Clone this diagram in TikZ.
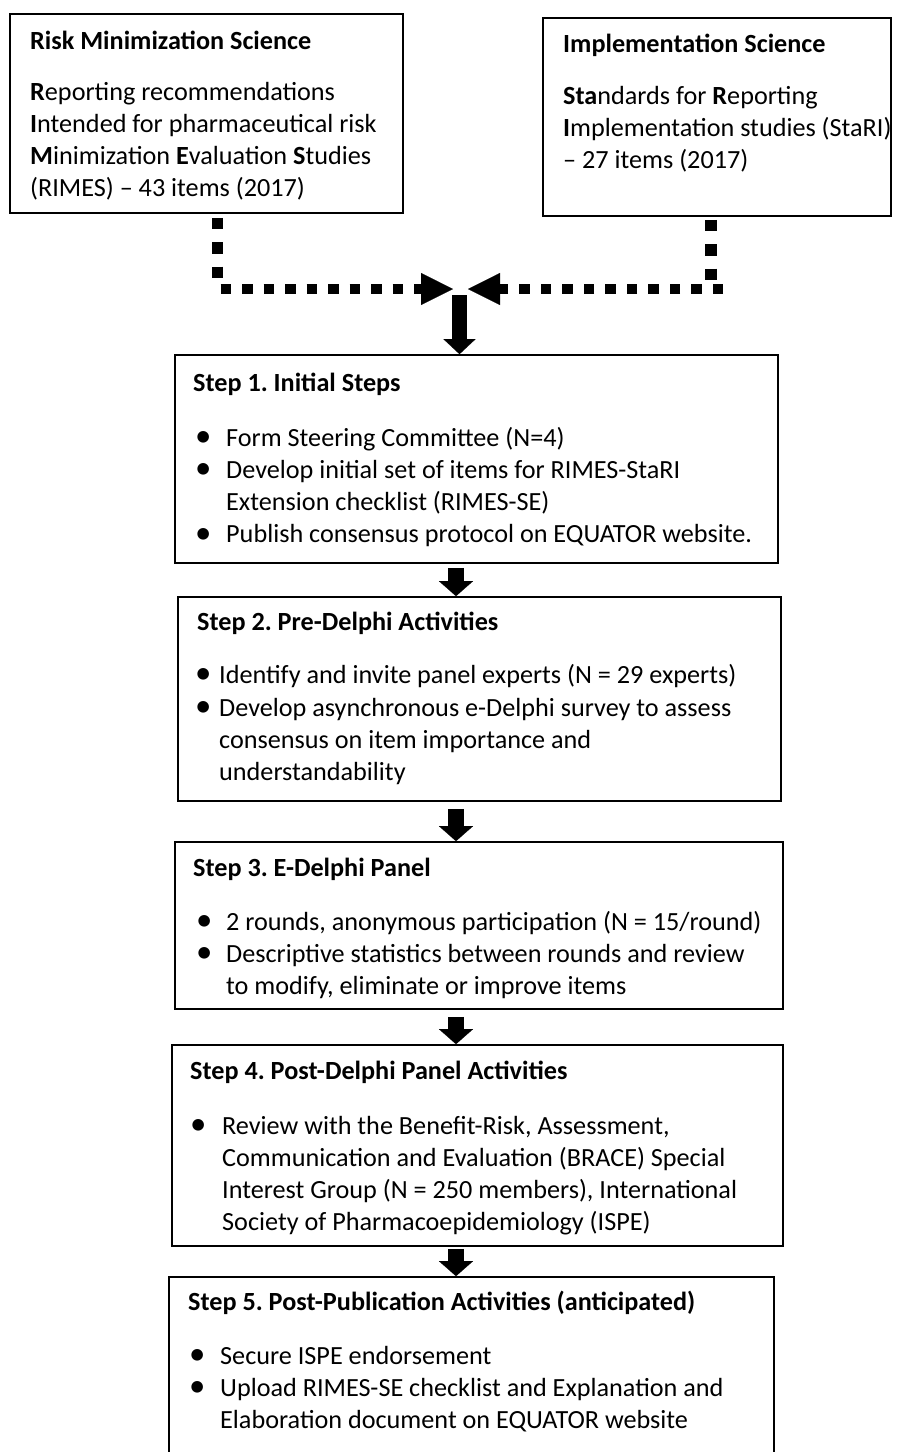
\documentclass[tikz,border=0pt]{standalone}
\usepackage{fontspec}
\setmainfont{Carlito}
\usetikzlibrary{arrows.meta}
\frenchspacing
\newcommand\bl[1]{\llap{\makebox[0pt][c]{\raisebox{-0.6pt}{\scalebox{1.25}{\textbullet}}}\hspace{#1}}}
\tikzset{
  box/.style={draw=black, line width=1.7pt, inner sep=0pt},
  txt/.style={inner sep=0pt, anchor=base west, font=\fontsize{26.2}{32.2}\selectfont},
  blk/.style={line width=16pt, -{Triangle[length=15pt,width=34pt,line width=0.1pt]}},
  bigblk/.style={line width=15pt, -{Triangle[length=15pt,width=32pt,line width=0.1pt]}},
  dotv/.style={line width=11.6pt, dash pattern=on 11.6pt off 12.8pt},
  doth/.style={line width=10.5pt, dash pattern=on 10.5pt off 11pt, -{Triangle[length=32pt,width=32pt,line width=0.1pt]}}
}
\begin{document}
\begin{tikzpicture}[x=1pt,y=-1pt]
\useasboundingbox (0,0) rectangle (905,1452);
% top boxes
\node[box, minimum width=393pt, minimum height=199pt] (A) at (206.5,113.5) {};
\node[box, minimum width=348pt, minimum height=198pt] (B) at (717,117) {};
\node[txt] (Ah) at (30,49) {\bfseries Risk Minimization Science};
\node[txt] (Ab) at (30,100) {\begin{tabular}[t]{@{}l@{}}\textbf{R}eporting recommendations\\ \textbf{I}ntended for pharmaceutical risk\\ \textbf{M}inimization \textbf{E}valuation \textbf{S}tudies\\ (RIMES) – 43 items (2017)\end{tabular}};
\node[txt] (Bh) at (563,52) {\bfseries Implementation Science};
\node[txt] (Bb) at (563,104) {\begin{tabular}[t]{@{}l@{}}\textbf{Sta}ndards for \textbf{R}eporting\\ \textbf{I}mplementation studies (StaRI)\\ – 27 items (2017)\end{tabular}};
% step boxes
\node[box, minimum width=603pt, minimum height=208pt] (S1) at (476.5,459) {};
\node[box, minimum width=603pt, minimum height=204pt] (S2) at (479.5,699) {};
\node[box, minimum width=608pt, minimum height=167pt] (S3) at (479,925.5) {};
\node[box, minimum width=611pt, minimum height=201pt] (S4) at (477.5,1145.5) {};
\node[box, minimum width=605pt, minimum height=200pt] (S5) at (471.5,1377) {};
% step texts
\node[txt] (S1h) at (193,391) {\bfseries Step 1. Initial Steps};
\node[txt] (S1b) at (226,446) {\begin{tabular}[t]{@{}l@{}}\bl{23pt}Form Steering Committee (N=4)\\ \bl{23pt}Develop initial set of items for RIMES-StaRI\\ Extension checklist (RIMES-SE)\\ \bl{23pt}Publish consensus protocol on EQUATOR website.\end{tabular}};
\node[txt] (S2h) at (197,630) {\bfseries Step 2. Pre-Delphi Activities};
\node[txt] (S2b) at (219,683) {\begin{tabular}[t]{@{}l@{}}\bl{16pt}Identify and invite panel experts (N = 29 experts)\\[1pt] \bl{16pt}Develop asynchronous e-Delphi survey to assess\\ consensus on item importance and\\ understandability\end{tabular}};
\node[txt] (S3h) at (193,876) {\bfseries Step 3. E-Delphi Panel};
\node[txt] (S3b) at (226,930) {\begin{tabular}[t]{@{}l@{}}\bl{22pt}2 rounds, anonymous participation (N = 15/round)\\ \bl{22pt}Descriptive statistics between rounds and review\\ to modify, eliminate or improve items\end{tabular}};
\node[txt] (S4h) at (190,1079) {\bfseries Step 4. Post-Delphi Panel Activities};
\node[txt] (S4b) at (222,1134) {\begin{tabular}[t]{@{}l@{}}\bl{24pt}Review with the Benefit-Risk, Assessment,\\ Communication and Evaluation (BRACE) Special\\ Interest Group (N = 250 members), International\\ Society of Pharmacoepidemiology (ISPE)\end{tabular}};
\node[txt] (S5h) at (188,1310) {\bfseries Step 5. Post-Publication Activities (anticipated)};
\node[txt] (S5b) at (220,1364) {\begin{tabular}[t]{@{}l@{}}\bl{23pt}Secure ISPE endorsement\\ \bl{23pt}Upload RIMES-SE checklist and Explanation and\\ Elaboration document on EQUATOR website\end{tabular}};
% merge connectors
\coordinate (lx) at (217.5,0);
\coordinate (rx) at (711,0);
\coordinate (cL) at (217.5,289);
\coordinate (cR) at (711,289);
\coordinate (mL) at (453,289);
\coordinate (mR) at (468,289);
\coordinate (mD) at (459.5,295);
\coordinate (ax) at (456,0);
\draw[dotv, shorten <=4pt, shorten >=10pt] (A.south -| lx) -- (cL);
\draw[doth, shorten <=3.2pt] (cL) -- (mL);
\draw[dotv, shorten <=3pt, shorten >=9pt] (B.south -| rx) -- (cR);
\draw[doth] ([xshift=12pt]cR) -- (mR);
\draw[bigblk] (mD) -- (S1.north -| mD);
% step arrows
\draw[blk, shorten <=4pt] (S1.south -| ax) -- (S2.north -| ax);
\draw[blk, shorten <=7pt] (S2.south -| ax) -- (S3.north -| ax);
\draw[blk, shorten <=7pt] (S3.south -| ax) -- (S4.north -| ax);
\draw[blk, shorten <=2pt] (S4.south -| ax) -- (S5.north -| ax);
\end{tikzpicture}
\end{document}
